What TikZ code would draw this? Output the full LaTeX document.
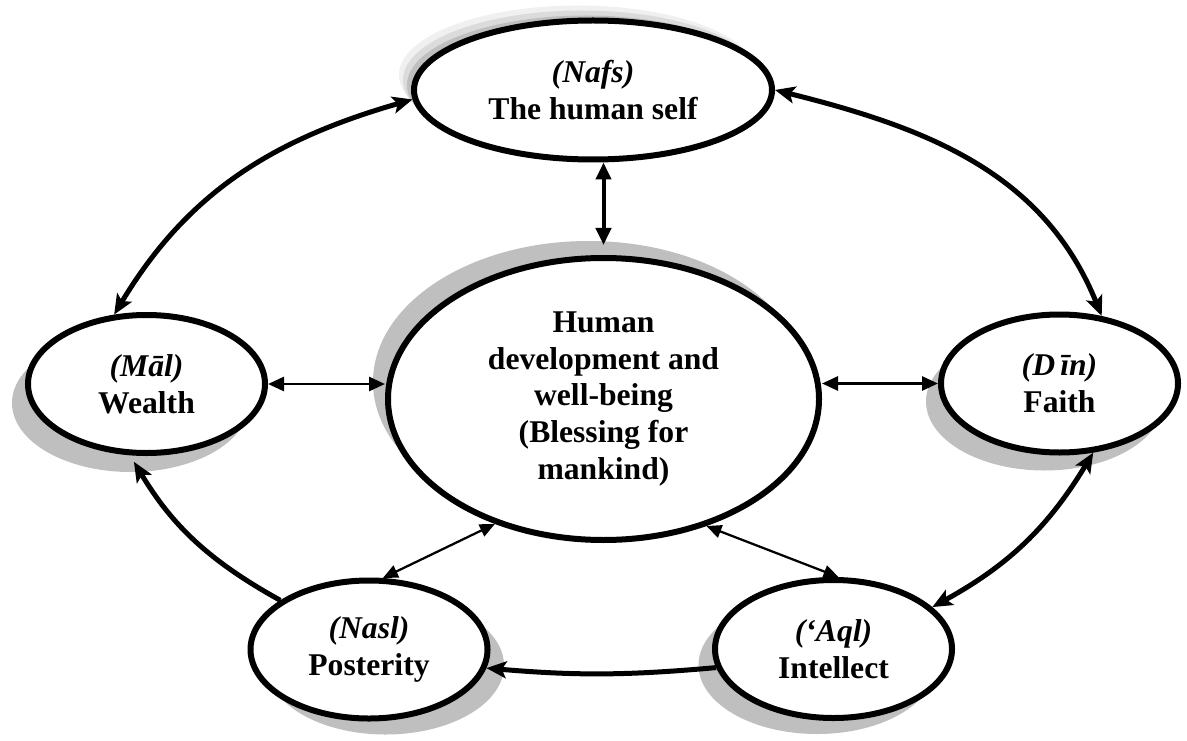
\documentclass[tikz,border=0pt]{standalone}
\usepackage{fontspec}
\setmainfont{Liberation Serif}
\usetikzlibrary{positioning, arrows.meta, shapes.geometric, shadows, calc}
\definecolor{shadegray}{RGB}{191,191,191}

\begin{document}
\begin{tikzpicture}[
  goal/.style={ellipse, draw, line width=0.12cm, fill=white, inner sep=0pt, align=center,
    font=\fontsize{18}{21}\selectfont\bfseries, minimum width=4.74cm, minimum height=2.76cm},
  ring/.style={line width=0.1cm, >={Stealth[length=0.4cm, width=0.34cm, inset=0.09cm]}},
  stem/.style={line width=0.08cm, {Triangle[length=0.34cm, width=0.3cm]}-{Triangle[length=0.34cm, width=0.3cm]}},
  spoke/.style={line width=0.055cm, {Triangle[length=0.32cm, width=0.28cm]}-{Triangle[length=0.32cm, width=0.28cm]}},
  ray/.style={line width=0.045cm, {Triangle[length=0.3cm, width=0.26cm]}-{Triangle[length=0.3cm, width=0.26cm]}}
]
\useasboundingbox (0,0) rectangle (23.74,14.8);

% the five maqasid round the centre
\node[goal, minimum width=7.16cm, minimum height=2.78cm,
  drop shadow={shadow xshift=-0.3cm, shadow yshift=0.3cm, fill=gray!12, opacity=1},
  drop shadow={shadow xshift=-0.22cm, shadow yshift=0.2cm, fill=gray!28, opacity=1},
  drop shadow={shadow xshift=-0.14cm, shadow yshift=0.1cm, fill=shadegray, opacity=1}]
  (nafs) at (11.86,13.0) {\textit{(Nafs)}\\The human self};
\node[goal, minimum width=8.62cm, minimum height=5.64cm,
  drop shadow={shadow xshift=-0.3cm, shadow yshift=0.34cm, fill=shadegray, opacity=1}]
  (hub) at (12.07,6.82) {Human\\development and\\well-being\\(Blessing for\\mankind)};
\node[goal,
  drop shadow={shadow xshift=-0.32cm, shadow yshift=-0.38cm, fill=shadegray, opacity=1}]
  (mal) at (2.93,7.12) {\textit{(Māl)}\\Wealth};
\node[goal,
  drop shadow={shadow xshift=-0.3cm, shadow yshift=-0.36cm, fill=shadegray, opacity=1}]
  (din) at (21.19,7.13) {\textit{(D\,īn)}\\Faith};
\node[goal,
  drop shadow={shadow xshift=0.33cm, shadow yshift=-0.32cm, fill=shadegray, opacity=1}]
  (nasl) at (7.38,1.81) {\textit{(Nasl)}\\Posterity};
\node[goal,
  drop shadow={shadow xshift=-0.33cm, shadow yshift=-0.32cm, fill=shadegray, opacity=1}]
  (aql) at (16.67,1.82) {\textit{(‘Aql)}\\Intellect};

% links to the centre
\draw[stem, shorten >=0.2cm] (hub.north |- nafs.south) -- (hub.north);
\draw[spoke] (mal.east) -- (mal.east -| hub.west);
\draw[spoke] (din.west) -- (din.west -| hub.east);
\draw[ray] (nasl.79) -- (hub.229);
\draw[ray] (aql.86) -- (hub.309);

% outer ring
\draw[ring, <->] (nafs.183) to[out=196, in=59] (mal.115);
\draw[ring, <->] (nafs.0) to[out=-14, in=112] (din.58);
\draw[ring, <->] (din.296) to[bend left=15] (aql.23);
\draw[ring, ->] (aql.189) to[bend left=5] (nasl.351);
\draw[ring, ->, shorten >=0.15cm] (nasl.151) to[bend left=15] (mal.257);
\end{tikzpicture}
\end{document}
